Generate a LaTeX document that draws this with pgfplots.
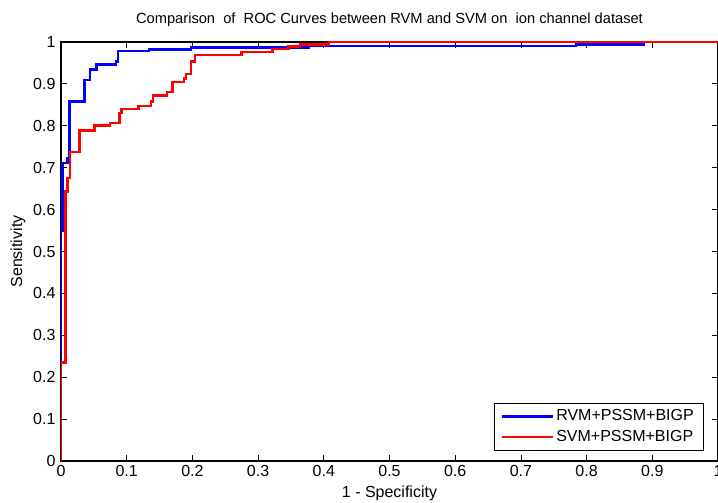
\documentclass[border=0pt]{standalone}
\usepackage{pgfplots}
\pgfplotsset{compat=1.18}
\usepackage{fontspec}
\setmainfont{Liberation Sans}

\begin{document}
\fontsize{12}{14}\selectfont
\begin{tikzpicture}
\begin{axis}[
  name=ax,
  scale only axis, width=492.75pt, height=314.25pt,
  xmin=0, xmax=1, ymin=0, ymax=1,
  xtick={0,0.1,...,1}, ytick={0,0.1,...,1},
  tick align=inside, major tick length=4.5pt,
  tick style={black, line width=0.6pt},
  axis line style={line width=0.8pt},
  /pgf/number format/assume math mode=true,
  xticklabel style={font=\fontsize{12}{14}\selectfont, yshift=1pt},
  yticklabel style={font=\fontsize{12}{14}\selectfont},
  title={Comparison\ \ of\ \ ROC Curves between RVM and SVM on\ \ ion channel dataset},
  title style={font=\fontsize{11}{13}\selectfont,
    at={(axis description cs:0.5,1.033)}, anchor=center},
  xlabel={1 - Specificity}, ylabel={Sensitivity},
  label style={font=\fontsize{12}{14}\selectfont},
  xlabel style={at={(axis description cs:0.5,-0.0764)}, anchor=center},
  ylabel style={at={(axis description cs:-0.0655,0.5)}, anchor=center, rotate=0},
  legend style={at={(0.978,0.025)}, anchor=south east, draw=black,
    line width=0.6pt, font=\fontsize{12}{14}\selectfont,
    inner xsep=5pt, inner ysep=3pt, row sep=1pt},
  legend cell align=left,
  legend image code/.code={\draw[#1, line width=1.6pt] (0pt,0pt) -- (38pt,0pt);},
]
\addplot[blue, line width=1.8pt, line join=miter] coordinates {
(0,0) (0,0.55) (0.002,0.55) (0.002,0.711) (0.010,0.711) (0.010,0.722)
(0.013,0.722) (0.013,0.858) (0.0355,0.858) (0.0355,0.909) (0.044,0.909)
(0.044,0.934) (0.054,0.934) (0.054,0.946) (0.084,0.946) (0.084,0.953)
(0.087,0.953) (0.087,0.978) (0.134,0.978) (0.134,0.982) (0.198,0.982)
(0.198,0.987) (0.377,0.987) (0.377,0.991) (0.784,0.991) (0.784,0.994)
(0.887,0.994) (0.887,1) (1,1)};
\addlegendentry{RVM+PSSM+BIGP}
\addplot[red, line width=1.8pt, line join=miter] coordinates {
(0,0) (0,0.235) (0.007,0.235) (0.007,0.643) (0.010,0.643) (0.010,0.675)
(0.0137,0.675) (0.0137,0.738) (0.028,0.738) (0.028,0.789) (0.051,0.789)
(0.051,0.801) (0.075,0.801) (0.075,0.806) (0.089,0.806) (0.089,0.831)
(0.092,0.831) (0.092,0.840) (0.118,0.840) (0.118,0.847) (0.137,0.847)
(0.137,0.858) (0.140,0.858) (0.140,0.872) (0.161,0.872) (0.161,0.880)
(0.170,0.880) (0.170,0.904) (0.187,0.904) (0.187,0.913) (0.190,0.913)
(0.190,0.923) (0.198,0.923) (0.198,0.953) (0.204,0.953) (0.204,0.969)
(0.275,0.969) (0.275,0.976) (0.322,0.976) (0.322,0.983) (0.346,0.983)
(0.346,0.989) (0.364,0.989) (0.364,0.994) (0.408,0.994) (0.408,1) (1,1)};
\addlegendentry{SVM+PSSM+BIGP}
\end{axis}
\pgfresetboundingbox
\path ([xshift=-45.75pt,yshift=-31.5pt]ax.south west) rectangle ([yshift=31.5pt]ax.north east);
\end{tikzpicture}
\end{document}
